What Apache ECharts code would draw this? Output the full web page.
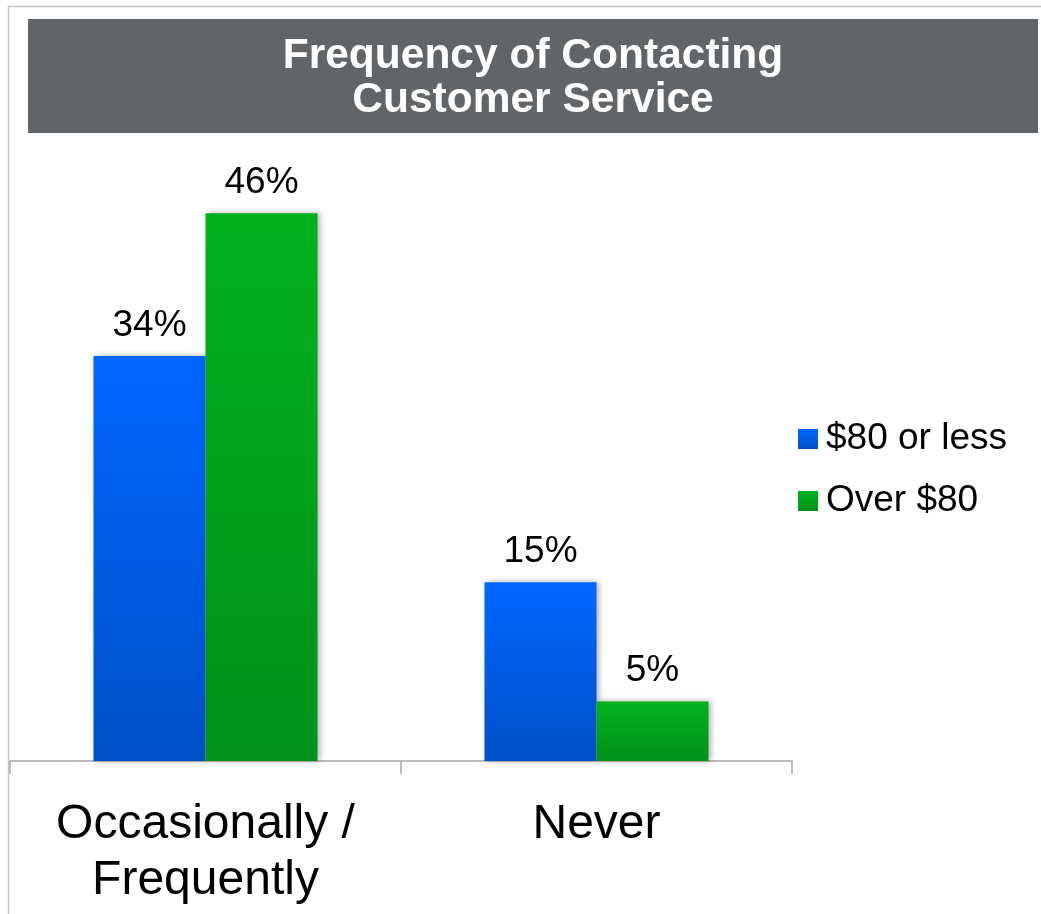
<!DOCTYPE html>
<html>
<head>
<meta charset="utf-8">
<script src="https://cdn.jsdelivr.net/npm/echarts@6/dist/echarts.min.js"></script>
<style>
html,body{margin:0;padding:0;background:#fff;}
#chart{width:1041px;height:914px;}
</style>
</head>
<body>
<div id="chart"></div>
<script>
const titleText = 'Frequency of Contacting\nCustomer Service';
const categories = ['Occasionally /\nFrequently', 'Never'];
const seriesNames = ['$80 or less', 'Over $80'];
const lessValues = [34, 15];
const overValues = [46, 5];

const font = '"Liberation Sans", Arial, Helvetica, sans-serif';
const chart = echarts.init(document.getElementById('chart'));

function grad(top, bottom) {
  return new echarts.graphic.LinearGradient(0, 0, 0, 1, [
    {offset: 0, color: top}, {offset: 1, color: bottom}
  ]);
}
const blue = grad('#0066ff', '#0051c8');
const green = grad('#00b11f', '#019119');

const labelCfg = {
  show: true, position: 'top', distance: 12,
  formatter: '{c}%', color: '#000', fontSize: 37, fontFamily: font
};
const shadow = {shadowBlur: 6, shadowColor: 'rgba(0,0,0,0.3)', shadowOffsetX: 2, shadowOffsetY: 0};

chart.setOption({
  animation: false,
  backgroundColor: '#fff',
  title: {
    text: titleText,
    left: 533, top: 34, padding: 0,
    textAlign: 'center',
    textStyle: {color: '#fff', fontSize: 42.5, fontWeight: 'bold', lineHeight: 44, fontFamily: font}
  },
  graphic: [
    {type: 'rect', z: -1, shape: {x: 28, y: 19, width: 1010, height: 114}, style: {fill: '#626567'}},
    {type: 'line', shape: {x1: 8, y1: 6.5, x2: 1041, y2: 6.5}, style: {stroke: '#c4c8c8', lineWidth: 1.5}},
    {type: 'line', shape: {x1: 8.5, y1: 6, x2: 8.5, y2: 914}, style: {stroke: '#c4c8c8', lineWidth: 1.5}}
  ],
  legend: {
    orient: 'vertical', left: 793, top: 406,
    itemWidth: 20, itemHeight: 20, itemGap: 6,
    icon: 'rect',
    data: seriesNames,
    textStyle: {color: '#000', fontSize: 37, lineHeight: 40, fontFamily: font, padding: [0, 0, 16, 3]}
  },
  grid: {left: 10, right: 249, top: 165.5, bottom: 153, containLabel: false},
  xAxis: {
    type: 'category', data: categories,
    axisLine: {lineStyle: {color: '#a6a6a6', width: 1.5}},
    axisTick: {show: true, length: 13, lineStyle: {color: '#a6a6a6', width: 1.5}},
    axisLabel: {color: '#000', fontSize: 48, lineHeight: 56, margin: 36, fontFamily: font, interval: 0}
  },
  yAxis: {type: 'value', min: 0, max: 50, show: false, splitLine: {show: false}},
  series: [
    {name: seriesNames[0], type: 'bar', data: lessValues, barWidth: 112, barGap: '0%',
     itemStyle: Object.assign({color: blue}, shadow), label: labelCfg},
    {name: seriesNames[1], type: 'bar', data: overValues, barWidth: 112, barGap: '0%',
     itemStyle: Object.assign({color: green}, shadow), label: labelCfg}
  ]
});
</script>
</body>
</html>
